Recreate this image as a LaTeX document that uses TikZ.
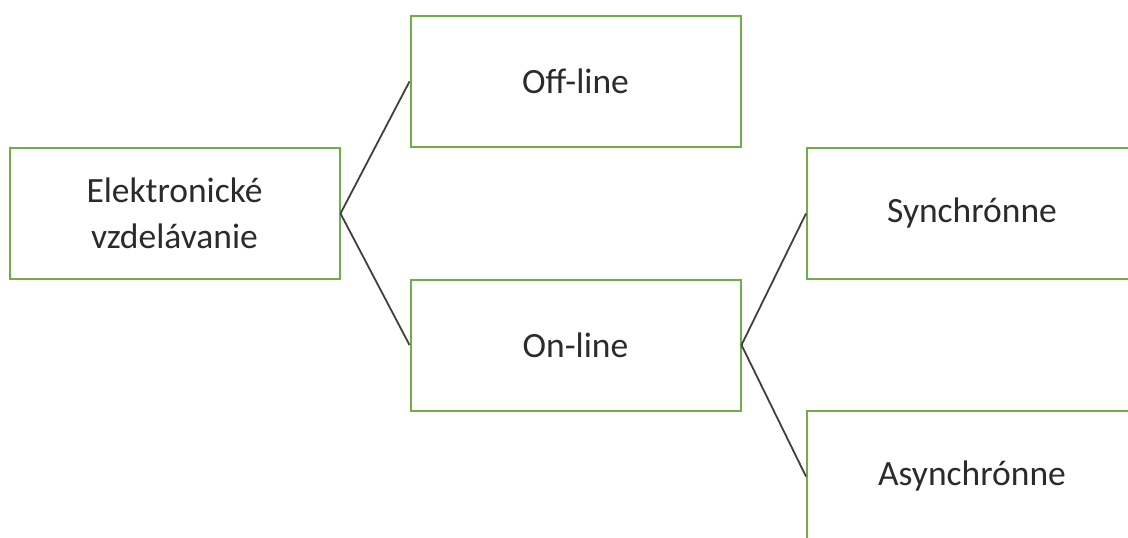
\documentclass[tikz,border=0pt]{standalone}
\usepackage{fontspec}
\setmainfont{Carlito}
\definecolor{boxgreen}{HTML}{70AD47}
\definecolor{linegray}{HTML}{404040}
\definecolor{textgray}{HTML}{2B2B2B}
\begin{document}
\begin{tikzpicture}[x=1pt,y=-1pt,
  box/.style={draw=boxgreen, line width=2pt, fill=white, rectangle, inner sep=0pt,
    minimum width=330pt, minimum height=131pt, align=center, text=textgray,
    font=\fontsize{35.5}{45.5}\selectfont},
  conn/.style={draw=linegray, line width=1.8pt}]
\useasboundingbox (0,0) rectangle (1128,538);
\clip (0,0) rectangle (1128,538);
\node[box] (e) at (174.5,213.5) {Elektronické\\vzdelávanie};
\node[box] (off) at (575.5,81.5) {Off-line};
\node[box] (on) at (575.5,345) {On-line};
\node[box] (syn) at (972,213.5) {Synchrónne};
\node[box] (asyn) at (972,476.5) {Asynchrónne};
\draw[conn] (e.east) -- (off.west);
\draw[conn] (e.east) -- (on.west);
\draw[conn] (on.east) -- (syn.west);
\draw[conn] (on.east) -- (asyn.west);
\end{tikzpicture}
\end{document}
